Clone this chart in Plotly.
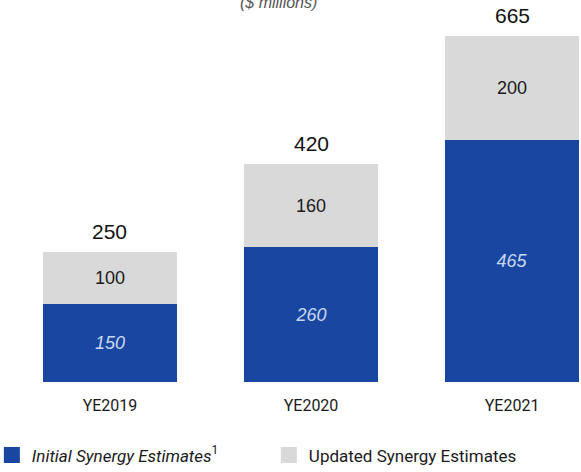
import plotly.graph_objects as go

# Synergy estimates by year ($ millions)
years = ["YE2019", "YE2020", "YE2021"]
initial = [150, 260, 465]
updated = [100, 160, 200]
totals = [250, 420, 665]

BLUE = "#1846a0"
GREY = "#d9d9d9"
NARROW = "Liberation Sans Narrow, Roboto, Arial, sans-serif"
SANS = "Liberation Sans, Arial, sans-serif"
INITIAL_NAME = "<i>Initial Synergy Estimates</i><sup>1</sup>"
UPDATED_NAME = "Updated Synergy Estimates"

fig = go.Figure()
fig.add_trace(go.Bar(
    x=years, y=initial, name=INITIAL_NAME, showlegend=False,
    marker=dict(color=BLUE, line=dict(width=0)),
    text=initial, texttemplate="<i>%{text}</i>", textposition="inside",
    insidetextanchor="middle",
    textfont=dict(family=SANS, size=18, color="#c9d8f2"),
    width=0.67,
))
fig.add_trace(go.Bar(
    x=years, y=updated, name=UPDATED_NAME, showlegend=False,
    marker=dict(color=GREY, line=dict(width=0)),
    text=updated, texttemplate="%{text}", textposition="inside",
    insidetextanchor="middle",
    textfont=dict(family=SANS, size=18, color="#1a1a1a"),
    width=0.67,
))

# Larger square legend keys
for name, color in [(INITIAL_NAME, BLUE), (UPDATED_NAME, GREY)]:
    fig.add_trace(go.Scatter(
        x=[None], y=[None], mode="markers", name=name,
        marker=dict(symbol="square", size=16, color=color, line=dict(width=0)),
    ))

# Stack totals above each bar
for yr, tot in zip(years, totals):
    fig.add_annotation(
        x=yr, y=tot, text=str(tot), showarrow=False,
        yanchor="bottom", yshift=7,
        font=dict(family=SANS, size=21, color="#111111"),
    )

fig.add_annotation(
    x=0.48, xref="paper", y=1, yref="paper", text="<i>($ millions)</i>",
    showarrow=False, yanchor="middle", yshift=-2,
    font=dict(family=SANS, size=16, color="#555555"),
)

fig.update_layout(
    width=581, height=472,
    margin=dict(l=0, r=0, t=0, b=90, autoexpand=False),
    barmode="stack",
    bargap=0,
    plot_bgcolor="white", paper_bgcolor="white",
    uniformtext=dict(minsize=8, mode="show"),
    showlegend=True,
    legend=dict(
        orientation="h", x=-0.014, xanchor="left", y=-0.145, yanchor="top",
        entrywidth=232, entrywidthmode="pixels",
        font=dict(family=NARROW, size=17, color="#1a1a1a"),
        traceorder="normal",
    ),
    xaxis=dict(
        range=[-0.547, 2.343], showgrid=False, zeroline=False, showline=False,
        ticks="outside", ticklen=9, tickcolor="rgba(0,0,0,0)",
        tickfont=dict(family=NARROW, size=16, color="#1a1a1a"),
    ),
    yaxis=dict(
        range=[0, 734.6], visible=False, showgrid=False, zeroline=False,
    ),
)

fig.write_html("out.html")
